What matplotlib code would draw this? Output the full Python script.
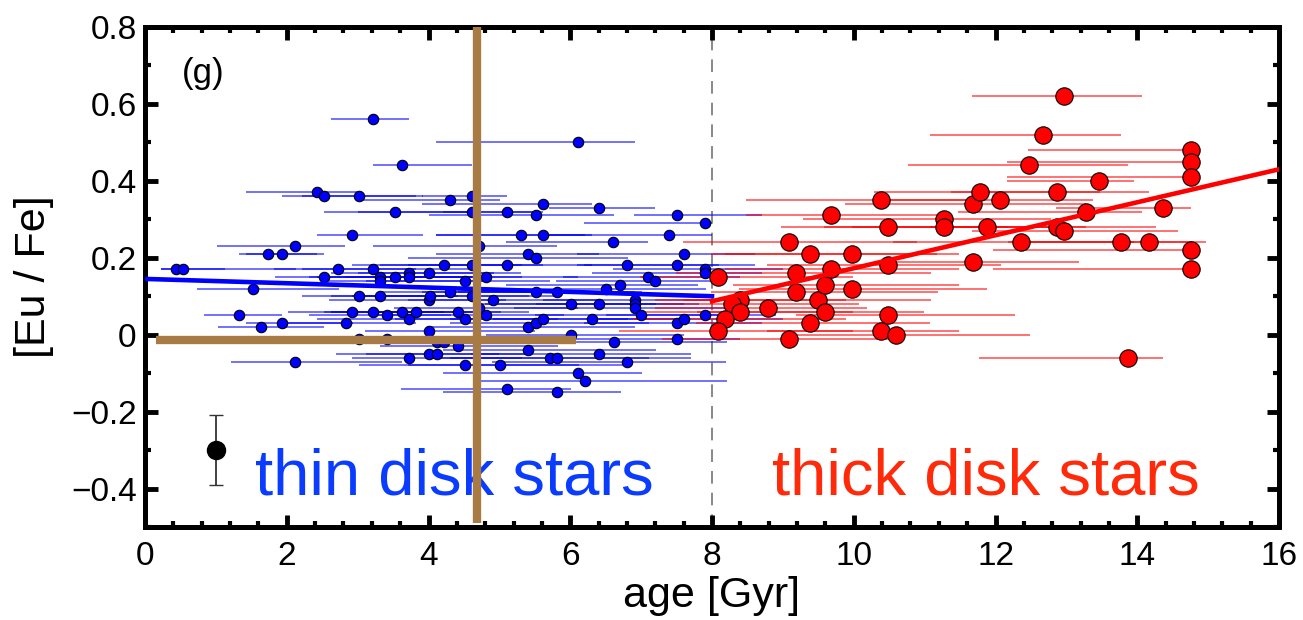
import matplotlib.pyplot as plt
from matplotlib.ticker import MultipleLocator
import numpy as np

plt.rcParams['font.family'] = ['Liberation Sans', 'DejaVu Sans']

# thin disk stars: age [Gyr], [Eu/Fe], lower / upper age errors
thin_age = [0.43, 0.53, 1.33, 1.53, 1.63, 1.73, 1.93, 1.93, 2.12, 2.12,
            2.42, 2.53, 2.53, 2.72, 2.83, 2.92, 2.92, 3.02, 3.02, 3.02,
            3.22, 3.22, 3.22, 3.32, 3.32, 3.32, 3.42, 3.42, 3.52, 3.52,
            3.62, 3.62, 3.72, 3.72, 3.72, 3.72, 3.82, 4.00, 4.00, 4.00,
            4.00, 4.02, 4.12, 4.12, 4.22, 4.42, 4.22, 4.31, 4.31, 4.42,
            4.52, 4.52, 4.52, 4.61, 4.61, 4.61, 4.61, 4.71, 4.71, 4.81,
            4.81, 4.91, 5.01, 5.11, 5.11, 5.11, 5.31, 5.41, 5.41, 5.41,
            5.51, 5.51, 5.51, 5.51, 5.61, 5.61, 5.61, 5.71, 5.81, 5.81,
            5.81, 6.01, 6.01, 6.11, 6.11, 6.21, 6.31, 6.40, 6.40, 6.40,
            6.51, 6.60, 6.61, 6.70, 6.80, 6.80, 6.91, 6.91, 6.91, 7.00,
            7.10, 7.20, 7.40, 7.50, 7.50, 7.50, 7.50, 7.60, 7.60, 7.90,
            7.90, 7.90, 7.90]
thin_eufe = [0.17, 0.17, 0.05, 0.12, 0.02, 0.21, 0.21, 0.03, 0.23, -0.07,
             0.37, 0.36, 0.15, 0.17, 0.03, 0.26, 0.06, 0.36, 0.10, -0.01,
             0.56, 0.17, 0.06, 0.15, 0.14, 0.10, 0.05, -0.01, 0.32, 0.15,
             0.44, 0.06, 0.16, 0.15, 0.04, -0.06, 0.06, 0.16, 0.09, 0.01,
             -0.05, 0.10, -0.05, -0.02, -0.02, -0.03, 0.18, 0.35, 0.11, 0.06,
             0.14, 0.04, -0.08, 0.36, 0.32, 0.18, 0.10, 0.23, 0.07, 0.15,
             0.05, 0.09, -0.08, 0.32, 0.18, -0.14, 0.26, 0.21, 0.02, -0.04,
             0.31, 0.20, 0.11, 0.03, 0.34, 0.26, 0.04, -0.06, 0.11, -0.06,
             -0.15, 0.08, 0.00, 0.50, -0.10, -0.12, 0.04, 0.33, 0.08, -0.05,
             0.12, 0.24, -0.02, 0.13, 0.18, -0.07, 0.09, 0.08, 0.07, 0.05,
             0.15, 0.14, 0.26, 0.31, 0.18, 0.03, -0.01, 0.21, 0.04, 0.29,
             0.17, 0.16, 0.05]
thin_err_lo = [0.2, 0.3, 0.5, 0.8, 0.6, 0.4, 0.5, 0.5, 1.1, 0.9,
               1.0, 0.6, 0.7, 0.9, 0.9, 0.5, 0.9, 0.8, 0.8, 1.0,
               0.6, 1.0, 0.7, 0.9, 0.8, 0.7, 1.1, 0.8, 1.0, 1.2,
               0.4, 1.0, 1.1, 0.9, 1.3, 0.8, 1.2, 1.0, 1.4, 0.9,
               1.3, 1.1, 1.0, 1.2, 0.9, 1.1, 1.3, 1.3, 1.0, 1.2,
               1.4, 1.0, 1.5, 0.7, 1.6, 1.3, 1.5, 1.5, 1.2, 1.4,
               1.6, 1.2, 1.3, 0.9, 1.4, 1.5, 1.2, 1.3, 1.4, 1.2,
               1.5, 1.8, 1.6, 1.2, 1.7, 1.5, 1.3, 1.7, 1.4, 1.5,
               1.6, 1.3, 1.2, 2.0, 1.9, 1.5, 1.4, 0.7, 1.6, 1.8,
               1.5, 1.5, 1.3, 1.6, 0.6, 1.9, 1.3, 1.4, 1.7, 1.5,
               1.2, 1.4, 1.8, 0.6, 1.4, 1.3, 1.5, 1.5, 1.2, 1.7,
               1.3, 1.6, 1.4]
thin_err_hi = [0.7, 1.6, 0.6, 1.2, 0.9, 0.7, 0.6, 1.0, 0.7, 1.5,
               0.6, 1.3, 1.4, 1.1, 1.0, 1.0, 1.3, 0.9, 1.2, 1.2,
               0.5, 1.4, 1.0, 1.3, 1.5, 1.1, 0.9, 1.2, 1.1, 1.3,
               1.0, 1.4, 1.2, 1.6, 1.0, 1.6, 0.9, 1.3, 1.1, 1.5,
               1.0, 1.4, 1.3, 1.0, 1.2, 1.4, 1.1, 0.7, 1.5, 1.0,
               1.2, 1.3, 1.6, 0.5, 0.9, 1.0, 1.2, 1.1, 1.4, 1.3,
               1.1, 1.5, 1.8, 0.5, 1.2, 0.9, 1.0, 1.0, 1.5, 1.8,
               1.1, 1.3, 1.4, 1.6, 0.7, 0.6, 1.2, 1.4, 1.2, 1.9,
               0.9, 1.2, 1.6, 0.8, 0.9, 2.0, 1.3, 0.8, 1.2, 1.3,
               1.4, 0.5, 1.6, 1.1, 1.3, 1.4, 1.2, 0.9, 1.5, 1.2,
               1.3, 1.0, 0.6, 1.2, 1.1, 1.2, 0.9, 1.0, 1.4, 0.1,
               1.1, 0.8, 1.0]

# thick disk stars
thick_age = [8.09, 8.39, 8.28, 8.39, 8.19, 8.09, 8.79, 9.09, 9.09, 9.19,
             9.19, 9.38, 9.38, 9.49, 9.59, 9.59, 9.68, 9.68, 9.98, 9.98,
             10.38, 10.48, 10.48, 10.48, 10.38, 10.59, 11.28, 11.28, 11.68, 11.78,
             11.88, 11.68, 12.07, 12.36, 12.47, 12.67, 12.87, 12.87, 12.97, 12.97,
             13.27, 13.46, 13.77, 13.87, 14.17, 14.36, 14.76, 14.76, 14.76, 14.76,
             14.76]
thick_eufe = [0.15, 0.09, 0.08, 0.06, 0.04, 0.01, 0.07, 0.24, -0.01, 0.16,
              0.11, 0.21, 0.03, 0.09, 0.13, 0.06, 0.31, 0.17, 0.21, 0.12,
              0.35, 0.28, 0.18, 0.05, 0.01, 0.00, 0.30, 0.28, 0.34, 0.37,
              0.28, 0.19, 0.35, 0.24, 0.44, 0.52, 0.37, 0.28, 0.27, 0.62,
              0.32, 0.40, 0.24, -0.06, 0.24, 0.33, 0.48, 0.45, 0.41, 0.22,
              0.17]
thick_err_lo = [1.1, 1.2, 1.0, 1.5, 1.3, 1.4, 1.6, 1.5, 1.8, 1.7,
                1.2, 1.4, 1.6, 1.9, 1.3, 1.8, 1.2, 1.5, 1.8, 1.6,
                1.9, 1.5, 1.7, 1.3, 1.6, 1.4, 2.0, 1.7, 1.8, 1.5,
                1.9, 1.4, 1.6, 1.8, 1.7, 1.6, 1.5, 1.8, 1.3, 1.3,
                1.8, 1.3, 1.6, 2.1, 1.7, 1.5, 2.3, 2.6, 2.6, 2.8,
                2.8]
thick_err_hi = [1.9, 1.5, 1.8, 1.6, 1.7, 1.9, 1.4, 1.8, 1.5, 1.9,
                2.0, 1.8, 1.7, 1.6, 1.9, 1.4, 1.6, 1.8, 1.5, 1.9,
                1.2, 1.7, 1.6, 1.8, 1.1, 1.9, 1.5, 1.8, 1.6, 1.7,
                1.4, 1.5, 1.3, 1.6, 1.4, 1.1, 1.3, 1.4, 1.6, 1.1,
                0.8, 0.5, 1.2, 0.5, 0.6, 0.4, 0.0, 0.0, 0.0, 0.0,
                0.0]

# linear trends for each population
thin_fit_age = [0.0, 8.0]
thin_fit_eufe = [0.145, 0.100]
thick_fit_age = [8.0, 16.0]
thick_fit_eufe = [0.087, 0.430]

# solar reference cross
sun_age = 4.68
sun_eufe = -0.015
sun_age_span = [0.15, 6.08]
sun_eufe_span = [-0.49, 0.80]

# typical [Eu/Fe] uncertainty
typ_age, typ_eufe, typ_err = 1.0, -0.30, 0.09

brown = '#a87b45'

fig = plt.figure(figsize=(13.03, 6.2), dpi=100)
ax = fig.add_axes([0.1113, 0.15, 0.8703, 0.8065])

ax.axvline(8.0, color='#7f7f7f', lw=1.3, ls=(0, (7, 5)), zorder=1)

ax.errorbar(thin_age, thin_eufe, xerr=[thin_err_lo, thin_err_hi], fmt='none',
            ecolor='#0000ff', elinewidth=1.3, alpha=0.6, zorder=2)
ax.errorbar(thick_age, thick_eufe, xerr=[thick_err_lo, thick_err_hi], fmt='none',
            ecolor='#ff0000', elinewidth=1.3, alpha=0.6, zorder=2)

ax.plot(thin_age, thin_eufe, 'o', ms=7.5, mfc='#0000ff', mec='black', mew=0.8, zorder=3)
ax.plot(thick_age, thick_eufe, 'o', ms=12.5, mfc='#ff0000', mec='black', mew=0.8, zorder=3)

ax.plot(thin_fit_age, thin_fit_eufe, color='#0000ff', lw=3.3, zorder=4)
ax.plot(thick_fit_age, thick_fit_eufe, color='#ff0000', lw=3.3, zorder=4)

ax.errorbar(typ_age, typ_eufe, yerr=typ_err, fmt='o', ms=13, color='black',
            ecolor='#333333', elinewidth=1.3, capsize=5, capthick=1.0, zorder=4)

ax.text(0.52, 0.68, '(g)', fontsize=25, va='center', ha='left')
ax.text(1.55, -0.415, 'thin disk stars', fontsize=47, color='#0a3cff', va='baseline', zorder=5)
ax.text(8.84, -0.415, 'thick disk stars', fontsize=47, color='#ff2a0a', va='baseline', zorder=5)

ax.plot([sun_age, sun_age], sun_eufe_span, color=brown, lw=6, solid_capstyle='butt', zorder=6)
ax.plot(sun_age_span, [sun_eufe, sun_eufe], color=brown, lw=6, solid_capstyle='butt', zorder=6)

ax.set_xlim(0, 16)
ax.set_ylim(-0.5, 0.8)
ax.xaxis.set_major_locator(MultipleLocator(2))
ax.xaxis.set_minor_locator(MultipleLocator(0.4))
ax.yaxis.set_major_locator(MultipleLocator(0.2))
ax.yaxis.set_minor_locator(MultipleLocator(0.1))
ax.set_yticks([-0.4, -0.2, 0, 0.2, 0.4, 0.6, 0.8])
ax.set_yticklabels(['\u22120.4', '\u22120.2', '0', '0.2', '0.4', '0.6', '0.8'])

ax.tick_params(which='both', direction='in', top=True, right=True)
ax.tick_params(which='major', length=9, width=3.5, labelsize=24)
ax.tick_params(which='minor', length=4.5, width=3)
ax.tick_params(axis='x', which='major', pad=10)
ax.tick_params(axis='y', which='major', pad=6)
for side in ax.spines.values():
    side.set_linewidth(3.6)

ax.set_xlabel('age [Gyr]', fontsize=31)
ax.set_ylabel('[Eu / Fe]', fontsize=31)
ax.xaxis.set_label_coords(0.5, -0.098)
ax.yaxis.set_label_coords(-0.08, 0.5)

fig.savefig('out.png', dpi=100)
